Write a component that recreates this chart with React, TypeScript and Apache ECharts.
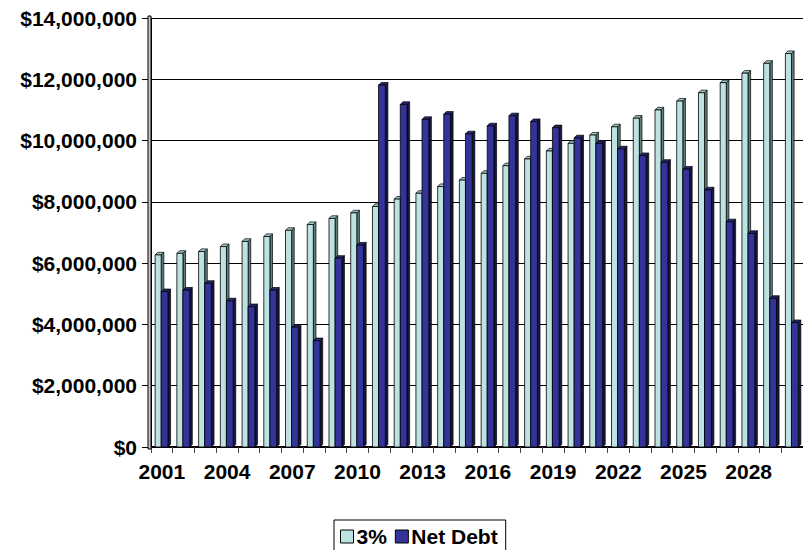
import React, { useEffect, useRef } from "react";
import * as echarts from "echarts";

const years = [
  "2001", "2002", "2003", "2004", "2005", "2006", "2007", "2008", "2009", "2010",
  "2011", "2012", "2013", "2014", "2015", "2016", "2017", "2018", "2019", "2020",
  "2021", "2022", "2023", "2024", "2025", "2026", "2027", "2028", "2029", "2030",
];

const growth3 = [
  6270000, 6320000, 6380000, 6540000, 6710000, 6870000, 7070000, 7260000, 7460000, 7640000,
  7850000, 8090000, 8280000, 8500000, 8710000, 8930000, 9180000, 9400000, 9660000, 9910000,
  10180000, 10450000, 10730000, 11000000, 11290000, 11560000, 11890000, 12200000, 12520000, 12840000,
];

const netDebt = [
  5070000, 5120000, 5340000, 4770000, 4580000, 5120000, 3910000, 3470000, 6160000, 6590000,
  11810000, 11180000, 10690000, 10860000, 10220000, 10480000, 10810000, 10620000, 10420000, 10090000,
  9910000, 9730000, 9510000, 9290000, 9070000, 8390000, 7350000, 6970000, 4850000, 4060000,
];

const seriesNames = ["3%", "Net Debt"];
const yTicks = { min: 0, max: 14000000, interval: 2000000 };

const FONT = 'Arial, "Liberation Sans", sans-serif';

const LIGHT = { front: "#BDE2E2", side: "#5E7E7E", top: "#9EC4C4" };
const DARK = { front: "#333399", side: "#16163F", top: "#262673" };

function makeRender(kind: "light" | "dark") {
  const pal = kind === "light" ? LIGHT : DARK;
  return (params: any, api: any) => {
    const i = api.value(0);
    const v = api.value(1);
    const top = api.coord([i, v]);
    const base = api.coord([i, 0]);
    const bw = api.size([1, 0])[0];
    const cx = top[0];
    let x0: number, x1: number;
    if (kind === "light") {
      x0 = cx - 0.31 * bw;
      x1 = cx - 0.03 * bw;
    } else {
      x0 = cx - 0.03 * bw;
      x1 = cx + 0.28 * bw;
    }
    const d = 0.12 * bw;
    const ty = top[1];
    const by = base[1];
    return {
      type: "group",
      children: [
        {
          type: "polygon",
          shape: { points: [[x1, ty], [x1 + d, ty - d], [x1 + d, by - d], [x1, by]] },
          style: { fill: pal.side, stroke: "#000", lineWidth: 0.7 },
        },
        {
          type: "polygon",
          shape: { points: [[x0, ty], [x0 + d, ty - d], [x1 + d, ty - d], [x1, ty]] },
          style: { fill: pal.top, stroke: "#000", lineWidth: 0.7 },
        },
        {
          type: "rect",
          shape: { x: x0, y: ty, width: x1 - x0, height: by - ty },
          style: { fill: pal.front, stroke: "#000", lineWidth: 0.8 },
        },
      ],
    };
  };
}

export default function App() {
  const ref = useRef<HTMLDivElement>(null);
  useEffect(() => {
    if (!ref.current) return;
    const chart = echarts.init(ref.current, null, { renderer: "svg" });
    chart.setOption({
      animation: false,
      backgroundColor: "#fff",
      textStyle: { fontFamily: FONT },
      grid: { left: 151, top: 18, width: 654, height: 429, containLabel: false },
      legend: {
        data: seriesNames,
        left: 334,
        top: 520,
        icon: "rect",
        itemWidth: 13,
        itemHeight: 13,
        itemGap: 8,
        borderColor: "#000",
        borderWidth: 1,
        borderRadius: 0,
        padding: [6, 8, 6, 6],
        textStyle: { fontFamily: FONT, fontSize: 21, fontWeight: "bold", color: "#000", padding: [0, 0, 0, -2] },
        itemStyle: { borderColor: "#000", borderWidth: 1 },
      },
      xAxis: {
        type: "category",
        data: years,
        boundaryGap: true,
        axisLine: { show: true, lineStyle: { color: "#000", width: 2 } },
        axisTick: { show: true, interval: 0, length: 6, lineStyle: { color: "#444", width: 1 } },
        axisLabel: {
          interval: 2,
          margin: 14,
          fontFamily: FONT,
          fontSize: 21,
          fontWeight: "bold",
          color: "#000",
        },
        splitLine: { show: false },
      },
      yAxis: {
        type: "value",
        min: yTicks.min,
        max: yTicks.max,
        interval: yTicks.interval,
        axisLine: { show: true, lineStyle: { color: "#000", width: 1 } },
        axisTick: { show: true, length: 9, lineStyle: { color: "#000" } },
        axisLabel: {
          margin: 14,
          fontFamily: FONT,
          fontSize: 21,
          fontWeight: "bold",
          color: "#000",
          formatter: (v: number) => "$" + v.toLocaleString("en-US"),
        },
        splitLine: { show: true, lineStyle: { color: "#000", width: 1 } },
      },
      graphic: [
        {
          type: "rect",
          shape: { x: 148, y: 16, width: 3, height: 433 },
          style: { fill: "#C8C8C8", stroke: "#000", lineWidth: 1 },
          z: 100,
        },
      ],
      series: [
        {
          name: seriesNames[0],
          type: "custom",
          renderItem: makeRender("light"),
          data: growth3.map((v, i) => [i, v]),
          encode: { x: 0, y: 1 },
          itemStyle: { color: LIGHT.front, borderColor: "#000", borderWidth: 1 },
          z: 2,
        },
        {
          name: seriesNames[1],
          type: "custom",
          renderItem: makeRender("dark"),
          data: netDebt.map((v, i) => [i, v]),
          encode: { x: 0, y: 1 },
          itemStyle: { color: DARK.front, borderColor: "#000", borderWidth: 1 },
          z: 3,
        },
      ],
    });
    return () => chart.dispose();
  }, []);
  return (
    <div
      ref={ref}
      style={{ position: "fixed", left: 0, top: 0, width: 803, height: 550, background: "#fff" }}
    />
  );
}
